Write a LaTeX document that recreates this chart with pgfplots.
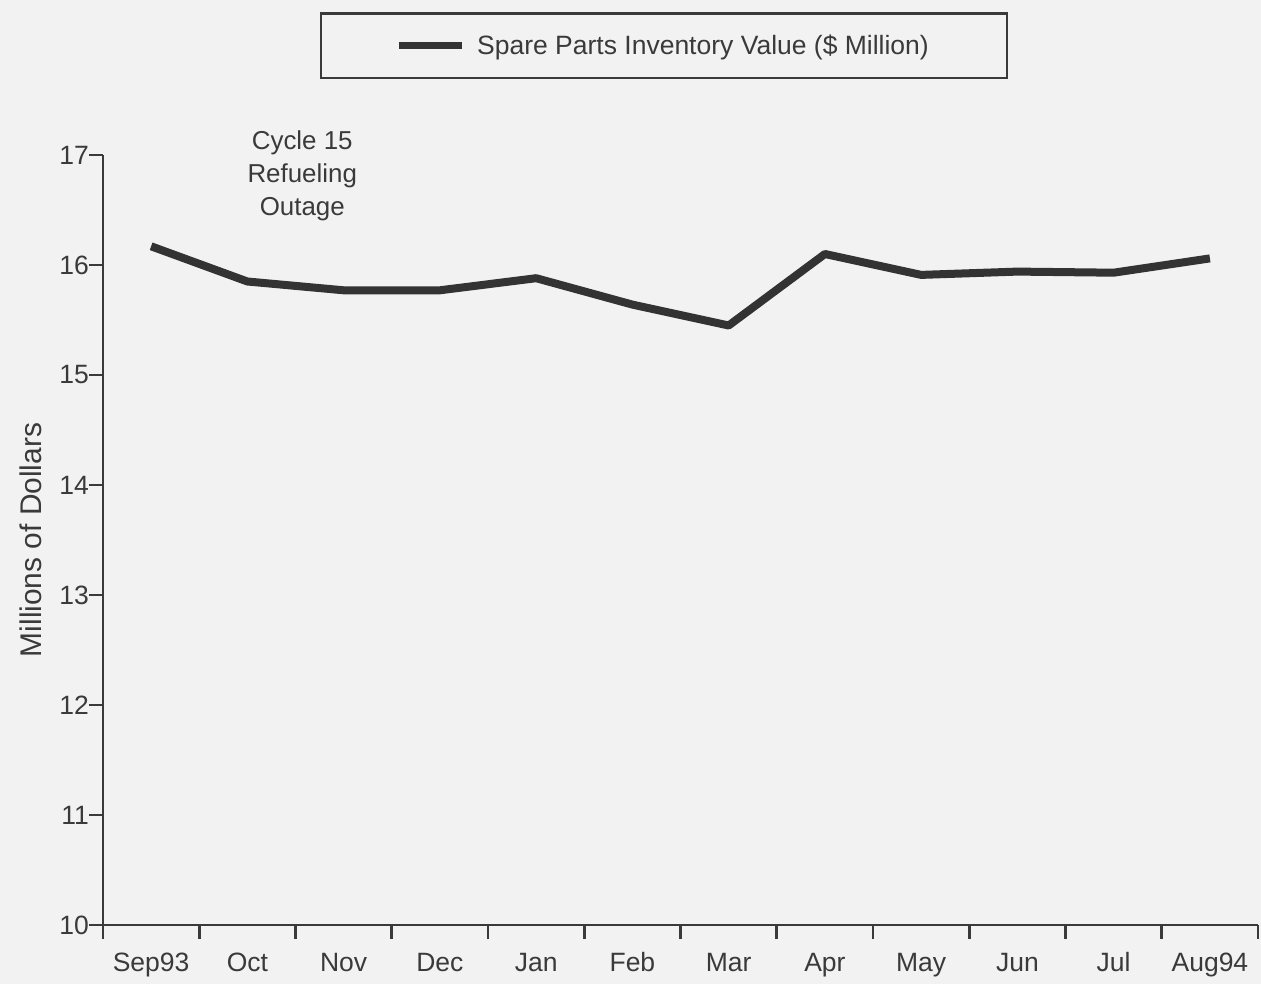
\documentclass[border=0pt]{standalone}
\usepackage{pgfplots}
\pgfplotsset{compat=1.18}
\usepackage{fontspec}
\setmainfont{Liberation Sans}
\definecolor{bgc}{HTML}{F2F2F2}
\definecolor{txt}{HTML}{3A3A3A}
\definecolor{ln}{HTML}{333333}
\begin{document}
\begin{tikzpicture}[x=0.5bp,y=0.5bp]
\path[use as bounding box, fill=bgc] (0,0) rectangle (1261,984);
\begin{axis}[
  at={(51.5bp,29.5bp)}, anchor=south west,
  scale only axis, width=577.5bp, height=385bp,
  xmin=0, xmax=12, ymin=10, ymax=17,
  axis lines=left, axis line style={-, line width=1.3bp, color=txt},
  tick align=outside,
  xtick={0,1,...,12},
  xticklabels={},
  x tick style={line width=1.3bp, color=txt},
  extra x ticks={0.5,1.5,...,11.5},
  extra x tick labels={Sep93,Oct,Nov,Dec,Jan,Feb,Mar,Apr,May,Jun,Jul,Aug94},
  extra x tick style={major tick length=0pt},
  xticklabel style={yshift=-10bp, text height=9.6bp, text depth=2.8bp},
  major tick length=7bp,
  ytick={10,11,...,17},
  tick style={line width=1.3bp, color=txt},
  yticklabel style={xshift=3.5bp},
  /pgf/number format/assume math mode=true,
  ticklabel style={font=\fontsize{13.3}{15}\selectfont, color=txt},
  ylabel={Millions of Dollars},
  ylabel style={font=\fontsize{15}{17}\selectfont, color=txt, yshift=2bp},
  legend style={at={(0.4857,1.1416)}, anchor=center, draw=txt, line width=1.2bp,
    fill=none, inner xsep=37bp, inner ysep=8.5bp,
    font=\fontsize{13.3}{15}\selectfont, text=txt},
  clip=false,
]
\addplot[ln, line width=4bp, line join=round,
  legend image code/.code={\draw[ln, line width=3.5bp] (0bp,0bp) -- (31.5bp,0bp);}]
  coordinates {
  (0.5,16.17) (1.5,15.85) (2.5,15.77) (3.5,15.77) (4.5,15.88) (5.5,15.64)
  (6.5,15.45) (7.5,16.10) (8.5,15.91) (9.5,15.94) (10.5,15.93) (11.5,16.06)};
\addlegendentry{\hspace{4bp}Spare Parts Inventory Value (\$ Million)}
\node[align=center, font=\fontsize{13}{16.5}\selectfont, color=txt] at (axis cs:2.07,16.81) {Cycle 15\\Refueling\\Outage};
\end{axis}
\end{tikzpicture}
\end{document}
